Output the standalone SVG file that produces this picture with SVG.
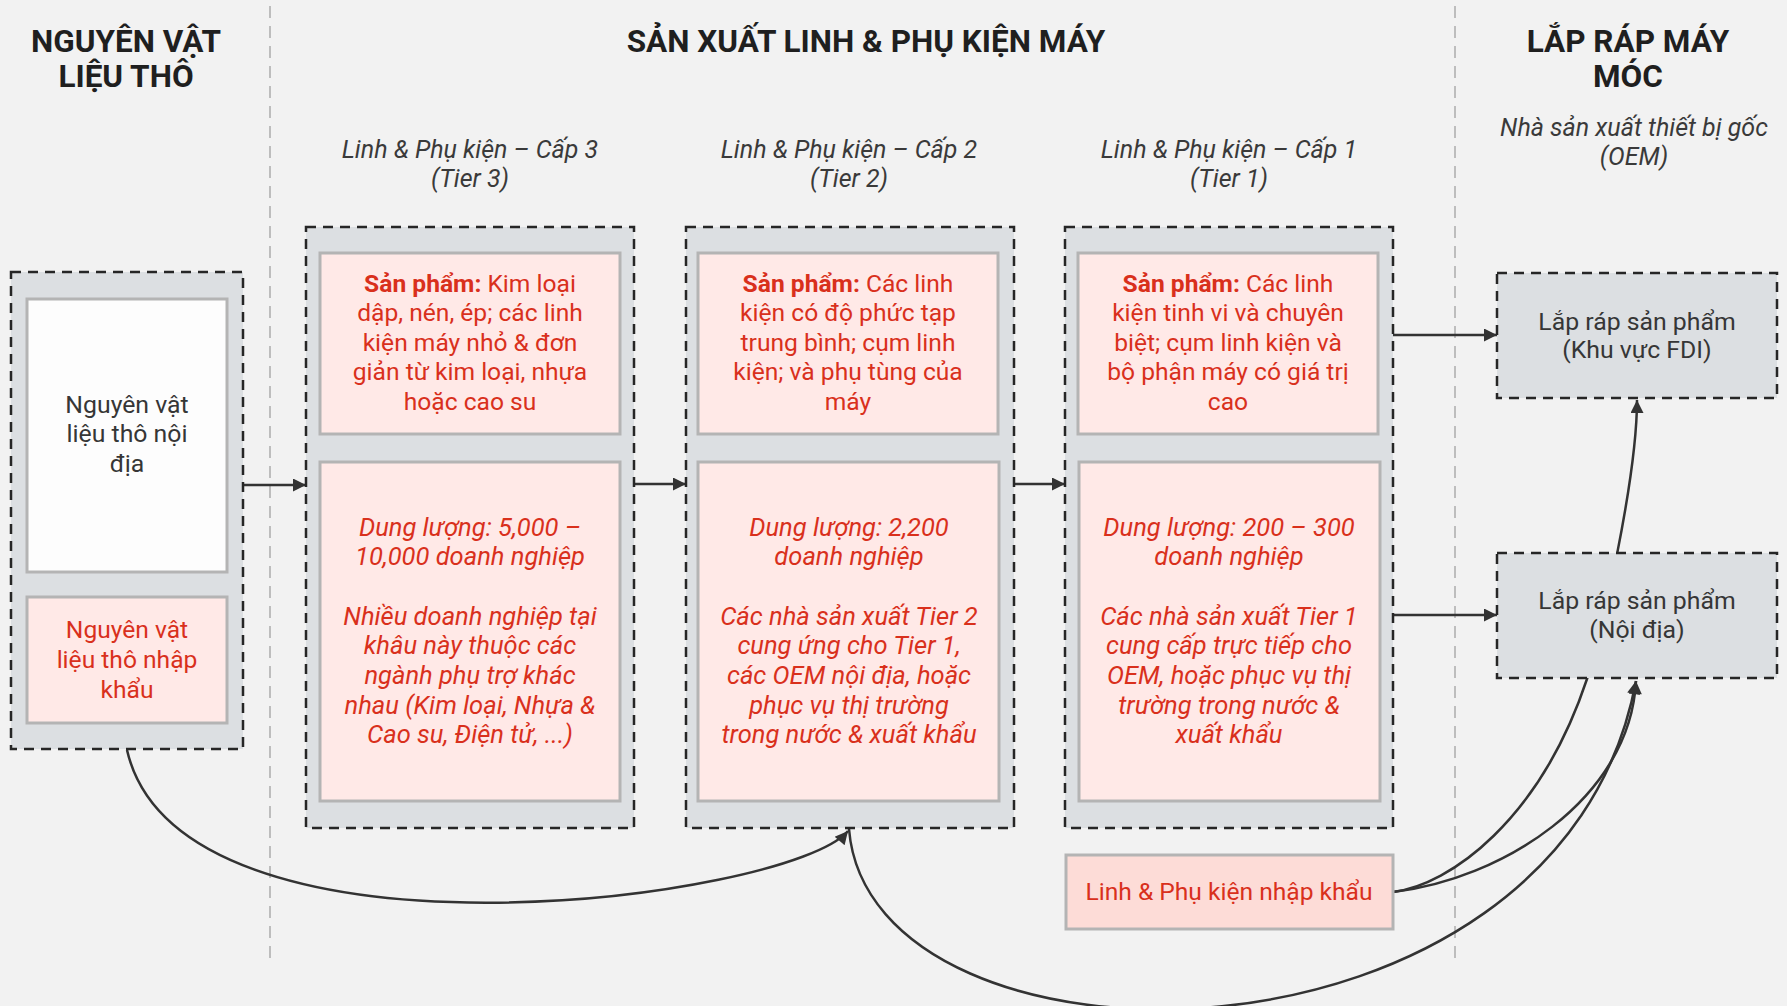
<svg xmlns="http://www.w3.org/2000/svg" width="1787" height="1006" viewBox="0 0 1787 1006">
<defs>
<style>
.bg{fill:#f2f2f2}
.sep{stroke:#bdbdbd;stroke-width:2;stroke-dasharray:12 8;fill:none}
.outer{fill:#dcdfe2;stroke:#262626;stroke-width:2.5;stroke-dasharray:10 7}
.inner{fill:#ffe9e7;stroke:#b4b4b4;stroke-width:3}
.white{fill:#fdfdfd;stroke:#b4b4b4;stroke-width:3}
.imp{fill:#fddcd7;stroke:#b4b4b4;stroke-width:3}
.hdr{font-family:Roboto,"Noto Sans",sans-serif;font-weight:700;font-size:31.5px;fill:#1f1f1f;text-anchor:middle}
.sub{font-family:Roboto,"Noto Sans",sans-serif;font-style:italic;font-size:25px;fill:#3a3a3a;text-anchor:middle}
.red{font-family:Roboto,"Noto Sans",sans-serif;font-size:24.6px;fill:#d9301c;text-anchor:middle}
.redi{font-family:Roboto,"Noto Sans",sans-serif;font-style:italic;font-size:25.5px;fill:#d9301c;text-anchor:middle}
.gray{font-family:Roboto,"Noto Sans",sans-serif;font-size:24.8px;fill:#363636;text-anchor:middle}
.b{font-weight:700}
.conn{fill:none;stroke:#333;stroke-width:2.5}
</style>
<marker id="ah" viewBox="0 0 10 10" refX="10" refY="5" markerWidth="15" markerHeight="13" markerUnits="userSpaceOnUse" orient="auto"><path d="M0,0 L10,5 L0,10 z" fill="#333"/></marker>
</defs>
<rect class="bg" x="0" y="0" width="1787" height="1006"/>
<g id="separators">
<line class="sep" x1="270" y1="6" x2="270" y2="960"/>
<line class="sep" x1="1455" y1="6" x2="1455" y2="966"/>
</g>
<g id="headers">
<text class="hdr" x="126" y="52">NGUYÊN VẬT</text>
<text class="hdr" x="126" y="87">LIỆU THÔ</text>
<text class="hdr" x="866" y="52">SẢN XUẤT LINH &amp; PHỤ KIỆN MÁY</text>
<text class="hdr" x="1628" y="52">LẮP RÁP MÁY</text>
<text class="hdr" x="1628" y="87">MÓC</text>
<text class="sub" x="1634" y="136">Nhà sản xuất thiết bị gốc</text>
<text class="sub" x="1634" y="165">(OEM)</text>
<text class="sub" x="470" y="158">Linh &amp; Phụ kiện – Cấp 3</text>
<text class="sub" x="470" y="187">(Tier 3)</text>
<text class="sub" x="849" y="158">Linh &amp; Phụ kiện – Cấp 2</text>
<text class="sub" x="849" y="187">(Tier 2)</text>
<text class="sub" x="1229" y="158">Linh &amp; Phụ kiện – Cấp 1</text>
<text class="sub" x="1229" y="187">(Tier 1)</text>
</g>
<g id="connectors">
<path class="conn" d="M243,485 L306,485" marker-end="url(#ah)"/>
<path class="conn" d="M634,484 L686,484" marker-end="url(#ah)"/>
<path class="conn" d="M1014,484 L1065,484" marker-end="url(#ah)"/>
<path class="conn" d="M1393,335 L1497,335" marker-end="url(#ah)"/>
<path class="conn" d="M1393,615 L1497,615" marker-end="url(#ah)"/>
<path class="conn" d="M127,750 C180,980 790,900 848,831" marker-end="url(#ah)"/>
<path class="conn" d="M849,829 C870,1090 1560,1090 1636,681" marker-end="url(#ah)"/>
<path class="conn" d="M1393,892 C1450,885 1540,820 1587,679 C1600,640 1637,480 1637,400" marker-end="url(#ah)"/>
<path class="conn" d="M1393,892 C1500,880 1630,800 1636,681" marker-end="url(#ah)"/>
</g>
<g id="raw-materials">
<rect class="outer" x="11" y="272" width="232" height="477"/>
<g id="raw-domestic">
<rect class="white" x="27" y="299" width="200" height="273"/>
<text class="gray" x="127" y="413">Nguyên vật</text>
<text class="gray" x="127" y="442">liệu thô nội</text>
<text class="gray" x="127" y="472">địa</text>
</g>
<g id="raw-imported">
<rect class="inner" x="27" y="597" width="200" height="126"/>
<text class="red" x="127" y="638">Nguyên vật</text>
<text class="red" x="127" y="668">liệu thô nhập</text>
<text class="red" x="127" y="698">khẩu</text>
</g>
</g>
<g id="tier3">
<rect class="outer" x="306" y="227" width="328" height="601"/>
<rect class="inner" x="320" y="253" width="300" height="181"/>
<text class="red" x="470" y="292"><tspan class="b">Sản phẩm:</tspan> Kim loại</text>
<text class="red" x="470" y="321">dập, nén, ép; các linh</text>
<text class="red" x="470" y="351">kiện máy nhỏ &amp; đơn</text>
<text class="red" x="470" y="380">giản từ kim loại, nhựa</text>
<text class="red" x="470" y="410">hoặc cao su</text>
<rect class="inner" x="320" y="462" width="300" height="339"/>
<text class="redi" x="470" y="536">Dung lượng: 5,000 –</text>
<text class="redi" x="470" y="565">10,000 doanh nghiệp</text>
<text class="redi" x="470" y="625">Nhiều doanh nghiệp tại</text>
<text class="redi" x="470" y="654">khâu này thuộc các</text>
<text class="redi" x="470" y="684">ngành phụ trợ khác</text>
<text class="redi" x="470" y="714">nhau (Kim loại, Nhựa &amp;</text>
<text class="redi" x="470" y="743">Cao su, Điện tử, ...)</text>
</g>
<g id="tier2">
<rect class="outer" x="686" y="227" width="328" height="601"/>
<rect class="inner" x="698" y="253" width="300" height="181"/>
<text class="red" x="848" y="292"><tspan class="b">Sản phẩm:</tspan> Các linh</text>
<text class="red" x="848" y="321">kiện có độ phức tạp</text>
<text class="red" x="848" y="351">trung bình; cụm linh</text>
<text class="red" x="848" y="380">kiện; và phụ tùng của</text>
<text class="red" x="848" y="410">máy</text>
<rect class="inner" x="698" y="462" width="301" height="339"/>
<text class="redi" x="849" y="536">Dung lượng: 2,200</text>
<text class="redi" x="849" y="565">doanh nghiệp</text>
<text class="redi" x="849" y="625">Các nhà sản xuất Tier 2</text>
<text class="redi" x="849" y="654">cung ứng cho Tier 1,</text>
<text class="redi" x="849" y="684">các OEM nội địa, hoặc</text>
<text class="redi" x="849" y="714">phục vụ thị trường</text>
<text class="redi" x="849" y="743">trong nước &amp; xuất khẩu</text>
</g>
<g id="tier1">
<rect class="outer" x="1065" y="227" width="328" height="601"/>
<rect class="inner" x="1078" y="253" width="300" height="181"/>
<text class="red" x="1228" y="292"><tspan class="b">Sản phẩm:</tspan> Các linh</text>
<text class="red" x="1228" y="321">kiện tinh vi và chuyên</text>
<text class="red" x="1228" y="351">biệt; cụm linh kiện và</text>
<text class="red" x="1228" y="380">bộ phận máy có giá trị</text>
<text class="red" x="1228" y="410">cao</text>
<rect class="inner" x="1079" y="462" width="301" height="339"/>
<text class="redi" x="1229" y="536">Dung lượng: 200 – 300</text>
<text class="redi" x="1229" y="565">doanh nghiệp</text>
<text class="redi" x="1229" y="625">Các nhà sản xuất Tier 1</text>
<text class="redi" x="1229" y="654">cung cấp trực tiếp cho</text>
<text class="redi" x="1229" y="684">OEM, hoặc phục vụ thị</text>
<text class="redi" x="1229" y="714">trường trong nước &amp;</text>
<text class="redi" x="1229" y="743">xuất khẩu</text>
</g>
<g id="imported-parts">
<rect class="imp" x="1066" y="855" width="327" height="74"/>
<text class="red" x="1229" y="900">Linh &amp; Phụ kiện nhập khẩu</text>
</g>
<g id="oem-fdi">
<rect class="outer" x="1497" y="273" width="280" height="125"/>
<text class="gray" x="1637" y="330">Lắp ráp sản phẩm</text>
<text class="gray" x="1637" y="358">(Khu vực FDI)</text>
</g>
<g id="oem-domestic">
<rect class="outer" x="1497" y="553" width="280" height="125"/>
<text class="gray" x="1637" y="609">Lắp ráp sản phẩm</text>
<text class="gray" x="1637" y="638">(Nội địa)</text>
</g>
</svg>
